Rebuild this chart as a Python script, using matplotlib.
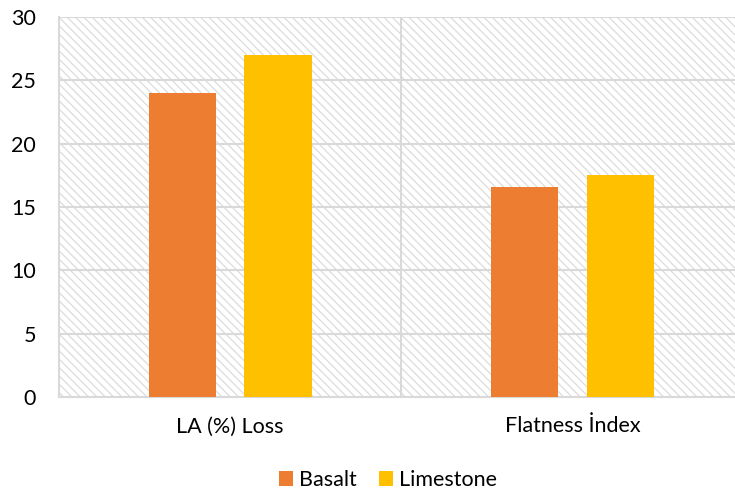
import matplotlib
matplotlib.use("Agg")
import matplotlib.pyplot as plt
from matplotlib.patches import Rectangle
import numpy as np

categories = ["LA (%) Loss", "Flatness İndex"]
basalt = [24.0, 16.6]
limestone = [27.0, 17.5]
series_names = ["Basalt", "Limestone"]
yticks = [0, 5, 10, 15, 20, 25, 30]

plt.rcParams['font.family'] = ['Lato', 'DejaVu Sans']
plt.rcParams['hatch.linewidth'] = 0.9
plt.rcParams['hatch.color'] = '#dcdcdc'

fig = plt.figure(figsize=(7.35, 4.95), dpi=100)
ax = fig.add_axes([59/735, 1-397/495, (743.5-59)/735, (397-17)/495])

grid_c = '#d9d9d9'
ax.add_patch(Rectangle((0, 0), 1, 1, transform=ax.transAxes, facecolor='white',
                       edgecolor='#dcdcdc', hatch='\\\\\\\\', linewidth=0, zorder=0))

x = np.arange(len(categories))
w = 0.196
off = 0.14
ax.bar(x - off, basalt, width=w, color='#ED7D31', label=series_names[0], zorder=3)
ax.bar(x + off, limestone, width=w, color='#FFC000', label=series_names[1], zorder=3)

ax.set_xlim(-0.5, len(categories) - 0.5)
ax.set_ylim(0, 30)
ax.set_yticks(yticks)
ax.set_yticklabels([str(t) for t in yticks])
ax.set_xticks(x)
ax.set_xticklabels(categories)
ax.tick_params(axis='both', length=0, labelsize=15.5, colors='black')
ax.tick_params(axis='y', pad=16.5)
ax.tick_params(axis='x', pad=14)

for yv in yticks[1:]:
    ax.axhline(yv, color=grid_c, linewidth=1.5, zorder=1)
for xv in [0.5]:
    ax.axvline(xv, color=grid_c, linewidth=1.5, zorder=1)

for s in ['top', 'right']:
    ax.spines[s].set_visible(False)
for s in ['left', 'bottom']:
    ax.spines[s].set_color(grid_c)
    ax.spines[s].set_linewidth(1.5)
    ax.spines[s].set_zorder(2)

handles, labels = ax.get_legend_handles_labels()
fig.legend(handles, labels, loc='center', bbox_to_anchor=(388/735, 1-480/495),
           ncol=2, frameon=False, fontsize=15.5, handlelength=0.65, handleheight=0.65,
           handletextpad=0.3, columnspacing=1.0)

fig.savefig('out.png', dpi=100)
